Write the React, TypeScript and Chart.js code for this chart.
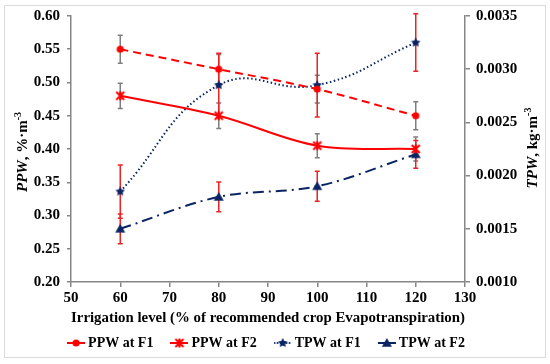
import React, { useEffect, useRef } from 'react';
import { Chart, registerables } from 'chart.js';

Chart.register(...registerables);

// ---- Data ----
const irrigationLevels = [60, 80, 100, 120];
const ppwF1 = [0.55, 0.52, 0.49, 0.45];
const ppwF1Err = [0.021, 0.022, 0.021, 0.021];
const ppwF2 = [0.48, 0.45, 0.405, 0.4];
const ppwF2Err = [0.019, 0.019, 0.018, 0.018];
const tpwF1 = [0.00185, 0.00285, 0.00285, 0.00325];
const tpwF1Err = [0.00025, 0.0003, 0.0003, 0.00027];
const tpwF2 = [0.0015, 0.0018, 0.0019, 0.0022];
const tpwF2Err = [0.00014, 0.00014, 0.00014, 0.00013];

const xTickValues = [50, 60, 70, 80, 90, 100, 110, 120, 130];
const ppwTickValues = [0.2, 0.25, 0.3, 0.35, 0.4, 0.45, 0.5, 0.55, 0.6];
const tpwTickValues = [0.001, 0.0015, 0.002, 0.0025, 0.003, 0.0035];

const seriesLabels = ['PPW at F1', 'PPW at F2', 'TPW at F1', 'TPW at F2'];
const xTitle = 'Irrigation level (% of recommended crop Evapotranspiration)';

const RED = '#ff0000';
const NAVY = '#0a2463';
const GREY_AXIS = '#868686';
const FONT = 'Liberation Serif';

type MarkerKind = 'circle' | 'asterisk' | 'star' | 'triangle';

function drawMarker(ctx: CanvasRenderingContext2D, kind: MarkerKind, x: number, y: number, color: string) {
  ctx.save();
  ctx.fillStyle = color;
  ctx.strokeStyle = color;
  ctx.setLineDash([]);
  if (kind === 'circle') {
    ctx.beginPath();
    ctx.arc(x, y, 3.6, 0, Math.PI * 2);
    ctx.fill();
  } else if (kind === 'asterisk') {
    const r = 4;
    ctx.lineWidth = 2;
    ctx.beginPath();
    ctx.moveTo(x - r, y - r);
    ctx.lineTo(x + r, y + r);
    ctx.moveTo(x + r, y - r);
    ctx.lineTo(x - r, y + r);
    ctx.moveTo(x, y - r - 0.5);
    ctx.lineTo(x, y + r + 0.5);
    ctx.stroke();
  } else if (kind === 'star') {
    const ro = 5, ri = 2.6;
    ctx.beginPath();
    for (let i = 0; i < 10; i++) {
      const r = i % 2 === 0 ? ro : ri;
      const a = -Math.PI / 2 + (i * Math.PI) / 5;
      const px = x + r * Math.cos(a);
      const py = y + r * Math.sin(a);
      if (i === 0) ctx.moveTo(px, py);
      else ctx.lineTo(px, py);
    }
    ctx.closePath();
    ctx.fill();
  } else if (kind === 'triangle') {
    const s = 5;
    ctx.beginPath();
    ctx.moveTo(x, y - s);
    ctx.lineTo(x + s, y + s * 0.75);
    ctx.lineTo(x - s, y + s * 0.75);
    ctx.closePath();
    ctx.fill();
  }
  ctx.restore();
}

function markerImage(kind: MarkerKind, color: string) {
  const c = document.createElement('canvas');
  c.width = 14;
  c.height = 14;
  const ctx = c.getContext('2d')!;
  drawMarker(ctx, kind, 7, 7, color);
  return c;
}

function legendImage(kind: MarkerKind, color: string, dash: number[]) {
  const c = document.createElement('canvas');
  c.width = 18;
  c.height = 14;
  const ctx = c.getContext('2d')!;
  ctx.strokeStyle = color;
  ctx.lineWidth = 2;
  ctx.setLineDash(dash);
  ctx.beginPath();
  ctx.moveTo(0, 7);
  ctx.lineTo(18, 7);
  ctx.stroke();
  drawMarker(ctx, kind, 9, 7, color);
  return c;
}

function drawRotatedRich(
  ctx: CanvasRenderingContext2D,
  cx: number,
  cy: number,
  parts: { t: string; f: string; dy?: number }[]
) {
  ctx.save();
  ctx.translate(cx, cy);
  ctx.rotate(-Math.PI / 2);
  ctx.fillStyle = '#000';
  ctx.textBaseline = 'middle';
  ctx.textAlign = 'left';
  let total = 0;
  const widths = parts.map((p) => {
    ctx.font = p.f;
    const w = ctx.measureText(p.t).width;
    total += w;
    return w;
  });
  let x = -total / 2;
  parts.forEach((p, i) => {
    ctx.font = p.f;
    ctx.fillText(p.t, x, p.dy || 0);
    x += widths[i];
  });
  ctx.restore();
}

export default function App() {
  const canvasRef = useRef<HTMLCanvasElement | null>(null);

  useEffect(() => {
    if (!canvasRef.current) return;

    const markers = [
      markerImage('circle', RED),
      markerImage('asterisk', RED),
      markerImage('star', NAVY),
      markerImage('triangle', NAVY),
    ];
    const legendImgs = [
      legendImage('circle', RED, []),
      legendImage('asterisk', RED, []),
      legendImage('star', NAVY, [1.5, 1.5]),
      legendImage('triangle', NAVY, [8, 3]),
    ];
    const errors = [ppwF1Err, ppwF2Err, tpwF1Err, tpwF2Err];
    const errorColors = ['#7f7f7f', '#7f7f7f', '#ee2222', '#ee2222'];

    const toPoints = (vals: number[]) => irrigationLevels.map((x, i) => ({ x, y: vals[i] }));

    const tickFont = { family: FONT, size: 15, weight: 'bold' as const };

    const backgroundPlugin = {
      id: 'bgFrame',
      beforeDraw(chart: any) {
        const { ctx, width, height } = chart;
        ctx.save();
        ctx.fillStyle = '#ffffff';
        ctx.fillRect(0, 0, width, height);
        ctx.strokeStyle = '#dadada';
        ctx.lineWidth = 1;
        ctx.strokeRect(4.5, 5.5, 541, 352);
        ctx.restore();
      },
    };

    const errorBarPlugin = {
      id: 'errorBars',
      beforeDatasetsDraw(chart: any) {
        const { ctx } = chart;
        chart.data.datasets.forEach((ds: any, di: number) => {
          const yScale = chart.scales[ds.yAxisID];
          const xScale = chart.scales.x;
          ctx.save();
          ctx.strokeStyle = errorColors[di];
          ctx.lineWidth = 1.5;
          ds.data.forEach((pt: any, i: number) => {
            const e = errors[di][i];
            const px = xScale.getPixelForValue(pt.x);
            const top = yScale.getPixelForValue(pt.y + e);
            const bot = yScale.getPixelForValue(pt.y - e);
            ctx.beginPath();
            ctx.moveTo(px, top);
            ctx.lineTo(px, bot);
            ctx.moveTo(px - 2.5, top);
            ctx.lineTo(px + 2.5, top);
            ctx.moveTo(px - 2.5, bot);
            ctx.lineTo(px + 2.5, bot);
            ctx.stroke();
          });
          ctx.restore();
        });
      },
    };

    const axisTitlePlugin = {
      id: 'axisTitles',
      afterDraw(chart: any) {
        const { ctx, chartArea } = chart;
        const cy = (chartArea.top + chartArea.bottom) / 2;
        const bold = `bold 15px "${FONT}"`;
        const ital = `italic bold 15px "${FONT}"`;
        const sup = `bold 10px "${FONT}"`;
        drawRotatedRich(ctx, chart.scales.y.left + 23, cy + 3, [
          { t: 'PPW', f: ital },
          { t: ', %·m', f: bold },
          { t: '-3', f: sup, dy: -5 },
        ]);
        drawRotatedRich(ctx, chart.scales.y1.right - 17, cy - 1, [
          { t: 'TPW', f: ital },
          { t: ', kg·m', f: bold },
          { t: '-3', f: sup, dy: -5 },
        ]);
      },
    };

    const legendShiftPlugin = {
      id: 'legendShift',
      afterLayout(chart: any) {
        const lg = chart.legend;
        if (lg) {
          lg.left -= 7;
          lg.right -= 7;
        }
      },
    };

    const chart = new Chart(canvasRef.current, {
      type: 'line',
      data: {
        datasets: [
          {
            label: seriesLabels[0],
            data: toPoints(ppwF1),
            yAxisID: 'y',
            borderColor: RED,
            backgroundColor: RED,
            borderWidth: 2,
            borderDash: [8, 5],
            tension: 0.35,
            pointStyle: markers[0],
            pointRadius: 4,
          },
          {
            label: seriesLabels[1],
            data: toPoints(ppwF2),
            yAxisID: 'y',
            borderColor: RED,
            backgroundColor: RED,
            borderWidth: 2,
            tension: 0.35,
            pointStyle: markers[1],
            pointRadius: 4,
          },
          {
            label: seriesLabels[2],
            data: toPoints(tpwF1),
            yAxisID: 'y1',
            borderColor: NAVY,
            backgroundColor: NAVY,
            borderWidth: 2,
            borderDash: [1.5, 2.5],
            tension: 0.45,
            pointStyle: markers[2],
            pointRadius: 4,
          },
          {
            label: seriesLabels[3],
            data: toPoints(tpwF2),
            yAxisID: 'y1',
            borderColor: NAVY,
            backgroundColor: NAVY,
            borderWidth: 2,
            borderDash: [11, 5, 2, 5],
            tension: 0.35,
            pointStyle: markers[3],
            pointRadius: 4,
          },
        ] as any,
      },
      options: {
        animation: false,
        responsive: false,
        maintainAspectRatio: false,
        layout: { padding: { top: 16, bottom: 4, left: 0, right: 0 } },
        plugins: {
          tooltip: { enabled: false },
          legend: {
            position: 'bottom',
            labels: {
              usePointStyle: true,
              pointStyleWidth: 10,
              padding: 21,
              color: '#000',
              font: { family: FONT, size: 14, weight: 'bold' },
              generateLabels: (ch: any) =>
                ch.data.datasets.map((ds: any, i: number) => ({
                  text: ds.label,
                  pointStyle: legendImgs[i],
                  fillStyle: ds.borderColor,
                  strokeStyle: ds.borderColor,
                  lineWidth: 0,
                  hidden: false,
                  datasetIndex: i,
                })),
            },
          },
        },
        scales: {
          x: {
            type: 'linear',
            min: 50,
            max: 130,
            afterBuildTicks: (s: any) => {
              s.ticks = xTickValues.map((v) => ({ value: v }));
            },
            afterFit: (s: any) => {
              s.height = 33;
            },
            ticks: {
              font: tickFont,
              color: '#000',
              padding: 2,
              maxRotation: 0,
              autoSkip: false,
              callback: (v: any) => String(v),
            },
            grid: { drawOnChartArea: false, tickLength: 5, color: GREY_AXIS, lineWidth: 1.5 },
            border: { color: GREY_AXIS, width: 1.5 },
            title: {
              display: true,
              text: xTitle,
              color: '#000',
              font: { family: FONT, size: 15, weight: 'bold' },
              padding: { top: 0, bottom: -12 },
            },
          },
          y: {
            type: 'linear',
            position: 'left',
            min: 0.2,
            max: 0.6,
            afterBuildTicks: (s: any) => {
              s.ticks = ppwTickValues.map((v) => ({ value: v }));
            },
            afterFit: (s: any) => {
              s.width = 71;
            },
            ticks: {
              font: tickFont,
              color: '#000',
              padding: 7,
              callback: (v: any) => Number(v).toFixed(2),
            },
            grid: { drawOnChartArea: false, tickLength: 4, color: GREY_AXIS, lineWidth: 1.5 },
            border: { color: GREY_AXIS, width: 1.5 },
          },
          y1: {
            type: 'linear',
            position: 'right',
            min: 0.001,
            max: 0.0035,
            afterBuildTicks: (s: any) => {
              s.ticks = tpwTickValues.map((v) => ({ value: v }));
            },
            afterFit: (s: any) => {
              s.width = 85;
            },
            ticks: {
              font: tickFont,
              color: '#000',
              padding: 6,
              callback: (v: any) => Number(v).toFixed(4),
            },
            grid: { drawOnChartArea: false, tickLength: 5, color: GREY_AXIS, lineWidth: 1.5 },
            border: { color: GREY_AXIS, width: 1.5 },
          },
        },
      } as any,
      plugins: [backgroundPlugin, errorBarPlugin, axisTitlePlugin, legendShiftPlugin],
    });

    return () => chart.destroy();
  }, []);

  return (
    <div style={{ position: 'absolute', left: 0, top: 0, width: 550, height: 364 }}>
      <canvas ref={canvasRef} width={550} height={364} style={{ display: 'block' }} />
    </div>
  );
}
